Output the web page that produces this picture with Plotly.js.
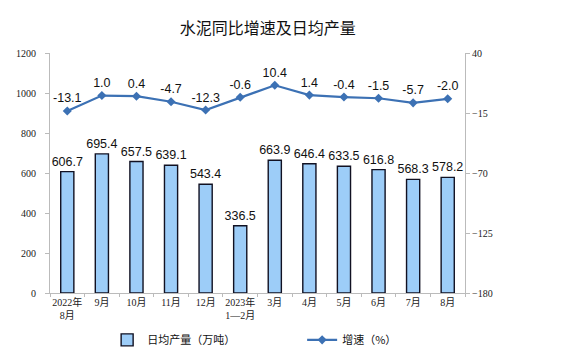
<!DOCTYPE html>
<html><head><meta charset="utf-8">
<script src="https://cdn.plot.ly/plotly-3.0.1.min.js"></script>
<style>html,body{margin:0;padding:0;background:#fff}#c{width:576px;height:357px}</style>
</head><body><div id="c"></div>
<script>
const categories = ["2022年<br>8月","9月","10月","11月","12月","2023年<br>1—2月","3月","4月","5月","6月","7月","8月"];
const dailyOutput = [606.7,695.4,657.5,639.1,543.4,336.5,663.9,646.4,633.5,616.8,568.3,578.2];
const growth = [-13.1,1.0,0.4,-4.7,-12.3,-0.6,10.4,1.4,-0.4,-1.5,-5.7,-2.0];
const leftTicks = [0,200,400,600,800,1000,1200];
const rightTicks = [-180,-125,-70,-15,40];

const bar = {
  type:'bar', x:categories, y:dailyOutput, name:'日均产量（万吨）',
  width:0.38,
  marker:{color:'#9DCDF8', line:{color:'#111122', width:1.4}},
  text:dailyOutput.map(v=>v.toFixed(1)), textposition:'outside', cliponaxis:false,
  constraintext:'none',
  textfont:{family:'Liberation Sans, Arial', size:12.5, color:'#111'},
  hoverinfo:'none'
};
const line = {
  type:'scatter', mode:'lines+markers+text', x:categories, y:growth, yaxis:'y2',
  name:'增速（%）',
  line:{color:'#3C71B4', width:2.2},
  marker:{symbol:'diamond', size:7, color:'#3C71B4'},
  text:growth.map(v=>v.toFixed(1)), textposition:'top center', cliponaxis:false,
  textfont:{family:'Liberation Sans, Arial', size:12.5, color:'#111'},
  hoverinfo:'none'
};
const tickFont = {family:'Liberation Serif, Noto Sans CJK SC', size:10, color:'#222'};
const layout = {
  width:576, height:357,
  margin:{l:50, r:111, t:53, b:64},
  paper_bgcolor:'#fff', plot_bgcolor:'#fff',
  title:{text:'水泥同比增速及日均产量', x:0.465, xanchor:'center', y:0.92, yanchor:'middle',
    font:{family:'Noto Sans CJK SC', size:16, color:'#111'}},
  showlegend:true,
  legend:{orientation:'h', xref:'container', yref:'container', x:0.186, xanchor:'left',
    y:0.048, yanchor:'middle',
    font:{family:'Noto Sans CJK SC', size:11, color:'#111'}, entrywidth:150, entrywidthmode:'pixels'},
  xaxis:{type:'category', showline:true, linecolor:'#bbb', linewidth:1, ticks:'outside',
    tickson:'boundaries', ticklen:3, tickcolor:'#bbb', tickfont:tickFont, showgrid:false,
    tickangle:0, automargin:false, range:[-0.5,11.5], fixedrange:true},
  yaxis:{range:[0,1200], tickvals:leftTicks, showline:true, linecolor:'#bbb', linewidth:1,
    ticks:'outside', ticklen:4, tickcolor:'#bbb', tickfont:tickFont, showgrid:false, zeroline:false,
    automargin:false, ticklabelstandoff:7},
  yaxis2:{range:[-180,40], tickvals:rightTicks, overlaying:'y', side:'right', showline:true,
    linecolor:'#bbb', linewidth:1, ticks:'outside', ticklen:4, tickcolor:'#bbb',
    tickfont:tickFont, showgrid:false, zeroline:false, automargin:false}
};
Plotly.newPlot('c',[bar,line],layout,{displayModeBar:false, staticPlot:true});
</script></body></html>
